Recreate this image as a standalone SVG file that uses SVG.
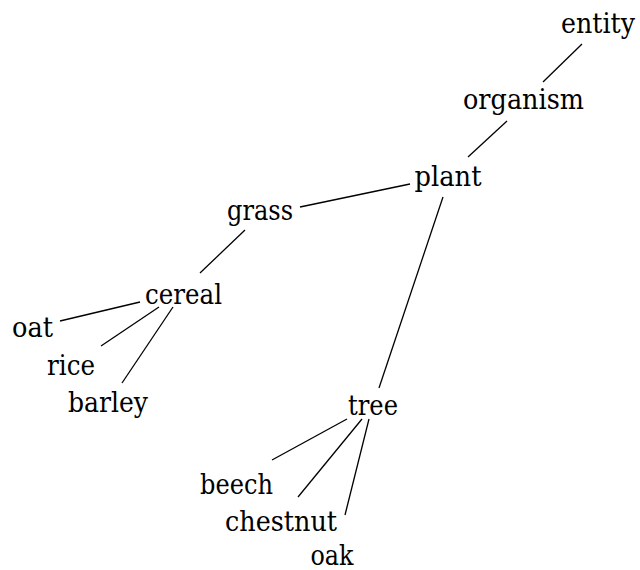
<svg xmlns="http://www.w3.org/2000/svg" width="640" height="570" viewBox="0 0 640 570">
<style>
.e line{stroke:#000;stroke-width:1.3}
</style>
<rect width="640" height="570" fill="#fff"/>
<g class="e" id="edges">
<line x1="582" y1="44" x2="543" y2="82"/>
<line x1="507" y1="121" x2="468" y2="157"/>
<line x1="410" y1="184" x2="300" y2="207"/>
<line x1="443" y1="197" x2="379" y2="388"/>
<line x1="245" y1="230" x2="200" y2="273"/>
<line x1="140" y1="302" x2="60" y2="321"/>
<line x1="159" y1="307" x2="101" y2="346"/>
<line x1="173" y1="307" x2="122" y2="383"/>
<line x1="347" y1="419" x2="272" y2="460"/>
<line x1="362" y1="419" x2="298" y2="497"/>
<line x1="369" y1="419" x2="345" y2="515"/>
</g>
<g font-family="'DejaVu Serif', serif" font-size="27" fill="#000" text-anchor="middle">
<g id="entity"><text x="598" y="33" textLength="74" lengthAdjust="spacingAndGlyphs">entity</text></g>
<g id="organism"><text x="523.5" y="109" textLength="121" lengthAdjust="spacingAndGlyphs">organism</text></g>
<g id="plant"><text x="448" y="186" textLength="67" lengthAdjust="spacingAndGlyphs">plant</text></g>
<g id="grass"><text x="260" y="220" textLength="66" lengthAdjust="spacingAndGlyphs">grass</text></g>
<g id="cereal"><text x="183.5" y="304" textLength="77" lengthAdjust="spacingAndGlyphs">cereal</text></g>
<g id="oat"><text x="32.5" y="337" textLength="41" lengthAdjust="spacingAndGlyphs">oat</text></g>
<g id="rice"><text x="71" y="375" textLength="48" lengthAdjust="spacingAndGlyphs">rice</text></g>
<g id="barley"><text x="108" y="412" textLength="80" lengthAdjust="spacingAndGlyphs">barley</text></g>
<g id="tree"><text x="373" y="415" textLength="50" lengthAdjust="spacingAndGlyphs">tree</text></g>
<g id="beech"><text x="236.5" y="494" textLength="73" lengthAdjust="spacingAndGlyphs">beech</text></g>
<g id="chestnut"><text x="281" y="531" textLength="112" lengthAdjust="spacingAndGlyphs">chestnut</text></g>
<g id="oak"><text x="332" y="565" textLength="43" lengthAdjust="spacingAndGlyphs">oak</text></g>
</g>
</svg>
